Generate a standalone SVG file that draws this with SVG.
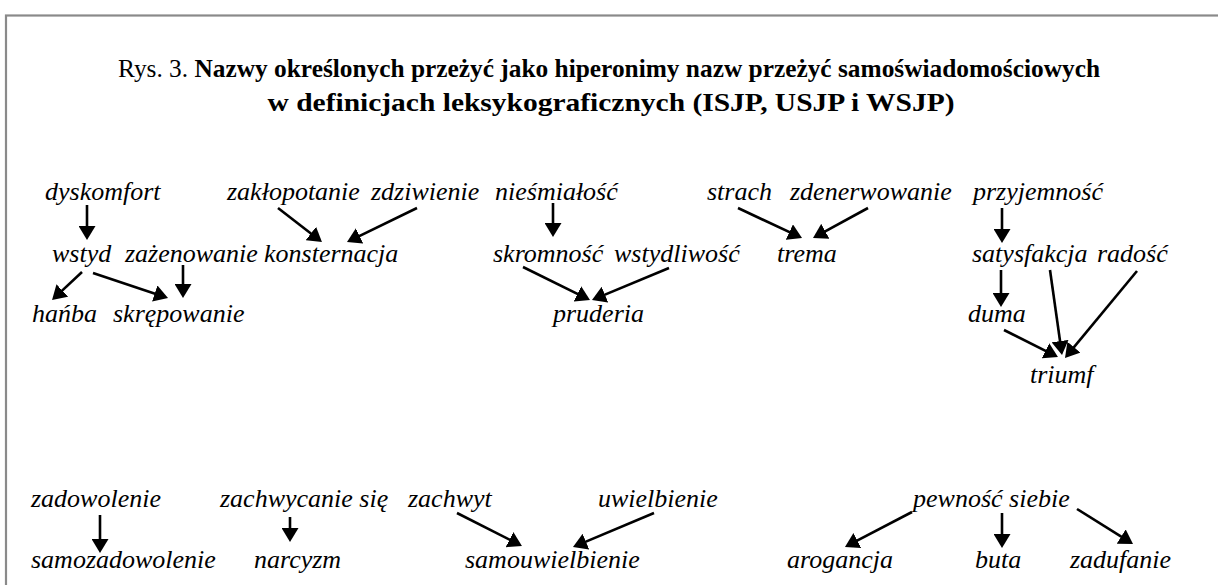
<svg xmlns="http://www.w3.org/2000/svg" width="1218" height="585" viewBox="0 0 1218 585">
<defs>
<style>
.t{font-family:"Liberation Serif","Times New Roman",serif;font-size:25.5px;fill:#000}
.b{font-weight:bold}
.n{font-family:"Liberation Serif","Times New Roman",serif;font-style:italic;font-size:26px;fill:#000}
.c line{stroke:#000;stroke-width:2.6;marker-end:url(#ah)}
</style>
<marker id="ah" viewBox="0 0 14 17" refX="9" refY="8.5" markerWidth="14" markerHeight="17" markerUnits="userSpaceOnUse" orient="auto">
<path d="M0,0 L14,8.5 L0,17 Z" fill="#000"/>
</marker>
</defs>
<rect width="1218" height="585" fill="#fff"/>
<rect x="6" y="15.5" width="1300" height="700" fill="none" stroke="#8a8a8a" stroke-width="2.2"/>
<g id="title">
<text class="t" x="609" y="77" text-anchor="middle" textLength="982" lengthAdjust="spacingAndGlyphs">Rys. 3. <tspan class="b">Nazwy określonych przeżyć jako hiperonimy nazw przeżyć samoświadomościowych</tspan></text>
<text class="t b" x="611" y="111" text-anchor="middle" textLength="687" lengthAdjust="spacingAndGlyphs">w definicjach leksykograficznych (ISJP, USJP i WSJP)</text>
</g>
<g id="dyskomfort"><text class="n" x="45" y="200">dyskomfort</text></g>
<g id="zaklopotanie"><text class="n" x="227" y="200">zakłopotanie</text></g>
<g id="zdziwienie"><text class="n" x="371" y="200">zdziwienie</text></g>
<g id="niesmialosc"><text class="n" x="495" y="200">nieśmiałość</text></g>
<g id="strach"><text class="n" x="707" y="200">strach</text></g>
<g id="zdenerwowanie"><text class="n" x="790" y="200">zdenerwowanie</text></g>
<g id="przyjemnosc"><text class="n" x="973" y="200">przyjemność</text></g>
<g id="wstyd"><text class="n" x="52" y="262">wstyd</text></g>
<g id="zazenowanie"><text class="n" x="125" y="262">zażenowanie</text></g>
<g id="konsternacja"><text class="n" x="264" y="262">konsternacja</text></g>
<g id="skromnosc"><text class="n" x="493" y="262">skromność</text></g>
<g id="wstydliwosc"><text class="n" x="614" y="262">wstydliwość</text></g>
<g id="trema"><text class="n" x="777" y="262">trema</text></g>
<g id="satysfakcja"><text class="n" x="972" y="262">satysfakcja</text></g>
<g id="radosc"><text class="n" x="1097" y="262">radość</text></g>
<g id="hanba"><text class="n" x="32" y="322">hańba</text></g>
<g id="skrepowanie"><text class="n" x="113" y="322">skrępowanie</text></g>
<g id="pruderia"><text class="n" x="553" y="322">pruderia</text></g>
<g id="duma"><text class="n" x="968" y="322">duma</text></g>
<g id="triumf"><text class="n" x="1030" y="383">triumf</text></g>
<g id="zadowolenie"><text class="n" x="31" y="507">zadowolenie</text></g>
<g id="zachwycanie"><text class="n" x="220" y="507">zachwycanie się</text></g>
<g id="zachwyt"><text class="n" x="408" y="507">zachwyt</text></g>
<g id="uwielbienie"><text class="n" x="598" y="507">uwielbienie</text></g>
<g id="pewnosc"><text class="n" x="913" y="507">pewność siebie</text></g>
<g id="samozadowolenie"><text class="n" x="31" y="568">samozadowolenie</text></g>
<g id="narcyzm"><text class="n" x="254" y="568">narcyzm</text></g>
<g id="samouwielbienie"><text class="n" x="465" y="568">samouwielbienie</text></g>
<g id="arogancja"><text class="n" x="787" y="568">arogancja</text></g>
<g id="buta"><text class="n" x="975" y="568">buta</text></g>
<g id="zadufanie"><text class="n" x="1070" y="568">zadufanie</text></g>
<g id="connectors" class="c">
<line x1="87" y1="205" x2="87" y2="235"/>
<line x1="278" y1="208" x2="318" y2="239"/>
<line x1="417" y1="208" x2="351.5" y2="239.8"/>
<line x1="82" y1="272" x2="55.7" y2="296.6"/>
<line x1="93" y1="273" x2="163.3" y2="296.4"/>
<line x1="183" y1="265" x2="183" y2="293"/>
<line x1="553" y1="203" x2="553" y2="232"/>
<line x1="523" y1="267" x2="585.5" y2="297.8"/>
<line x1="669" y1="268" x2="596.6" y2="298.1"/>
<line x1="738" y1="208" x2="797.5" y2="235.9"/>
<line x1="868" y1="208" x2="817.4" y2="235.6"/>
<line x1="1002" y1="208" x2="1002" y2="238"/>
<line x1="1001" y1="270" x2="1001" y2="302"/>
<line x1="1004" y1="330" x2="1053.5" y2="354.8"/>
<line x1="1050" y1="270" x2="1061.3" y2="350"/>
<line x1="1137" y1="271" x2="1068.2" y2="354.1"/>
<line x1="100" y1="515" x2="100" y2="548"/>
<line x1="290" y1="517" x2="290" y2="537"/>
<line x1="457" y1="513" x2="517.5" y2="543.7"/>
<line x1="654" y1="513" x2="577.6" y2="545.1"/>
<line x1="912" y1="512" x2="849.4" y2="544.7"/>
<line x1="1002" y1="513" x2="1002" y2="543"/>
<line x1="1077" y1="509" x2="1128.8" y2="541.4"/>
</g>
</svg>
